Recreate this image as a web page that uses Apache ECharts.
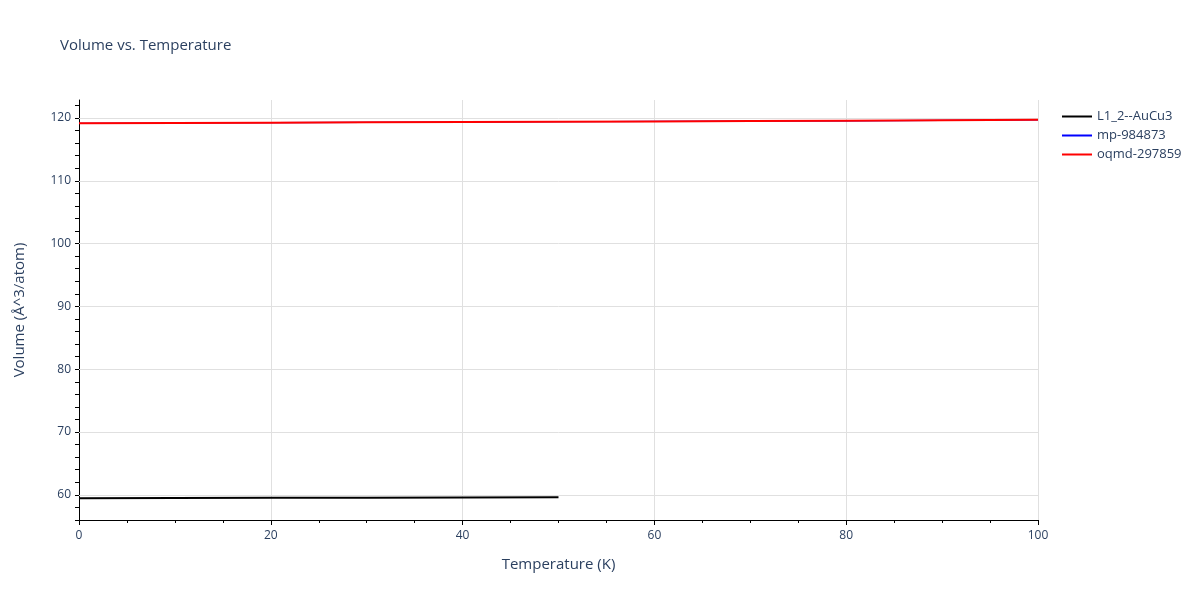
<!DOCTYPE html>
<html>
<head>
<meta charset="utf-8">
<script src="https://cdn.jsdelivr.net/npm/echarts@6/dist/echarts.min.js"></script>
<style>html,body{margin:0;padding:0;background:#fff}#c{width:1200px;height:600px}</style>
</head>
<body>
<div id="c"></div>
<script>
const seriesNames = ['L1_2--AuCu3', 'mp-984873', 'oqmd-297859'];
const seriesColors = ['#000000', '#0000ff', '#ff0000'];
const tempL12 = [0, 10, 20, 30, 40, 50];
const volL12 = [59.47, 59.50, 59.53, 59.56, 59.60, 59.63];
const tempMp = [0, 10, 20, 30, 40, 50, 60, 70, 80, 90, 100];
const volMp = [119.15, 119.20, 119.25, 119.30, 119.35, 119.40, 119.45, 119.50, 119.55, 119.62, 119.70];
const tempOq = [0, 10, 20, 30, 40, 50, 60, 70, 80, 90, 100];
const volOq = [119.15, 119.20, 119.25, 119.30, 119.35, 119.40, 119.45, 119.50, 119.55, 119.62, 119.70];
const yGridValues = [60, 70, 80, 90, 100, 110, 120];

const font = '"Open Sans", "Noto Sans", sans-serif';
const textColor = '#2a3f5f';
const zip = (xs, ys) => xs.map((x, i) => [x, ys[i]]);
const temps = [tempL12, tempMp, tempOq];
const vols = [volL12, volMp, volOq];
const widths = [2, 1.2, 2];

const series = seriesNames.map((name, i) => ({
  name: name,
  type: 'line',
  data: zip(temps[i], vols[i]),
  showSymbol: false,
  symbol: 'none',
  lineStyle: { color: seriesColors[i], width: widths[i] },
  itemStyle: { color: seriesColors[i] },
  z: 3 + i
}));
series.push({
  name: '_grid',
  type: 'line',
  data: [],
  silent: true,
  markLine: {
    silent: true,
    symbol: 'none',
    label: { show: false },
    lineStyle: { color: '#e0e0e0', width: 1, type: 'solid' },
    emphasis: { disabled: true },
    data: yGridValues.map(v => ({ yAxis: v }))
  },
  z: 1
});

const chart = echarts.init(document.getElementById('c'));
chart.setOption({
  animation: false,
  backgroundColor: '#fff',
  textStyle: { fontFamily: font },
  title: {
    text: 'Volume vs. Temperature',
    left: 55, top: 33,
    textStyle: { fontFamily: font, fontSize: 15, fontWeight: 'normal', color: textColor }
  },
  legend: {
    data: seriesNames.map((n, i) => ({ name: n, itemStyle: { color: seriesColors[i] } })),
    orient: 'vertical',
    left: 1057, top: 105,
    icon: 'rect',
    itemWidth: 30, itemHeight: 2,
    itemGap: 6,
    textStyle: { fontFamily: font, fontSize: 13, color: textColor }
  },
  grid: { left: 79, right: 162, top: 100, bottom: 80, containLabel: false },
  xAxis: {
    type: 'value',
    min: 0, max: 100, interval: 20,
    name: 'Temperature (K)',
    nameLocation: 'middle', nameGap: 37,
    nameTextStyle: { fontFamily: font, fontSize: 15, color: textColor },
    axisLine: { show: true, onZero: false, lineStyle: { color: '#000', width: 1 } },
    axisTick: { show: true, length: 5, lineStyle: { color: '#000' } },
    minorTick: { show: true, splitNumber: 4, length: 3, lineStyle: { color: '#000' } },
    axisLabel: { fontFamily: font, fontSize: 12, color: textColor, margin: 10 },
    splitLine: { show: true, lineStyle: { color: '#e0e0e0' } }
  },
  yAxis: {
    type: 'value',
    min: 56, max: 122.86, interval: 2,
    name: 'Volume (Å^3/atom)',
    nameLocation: 'middle', nameGap: 52,
    nameTextStyle: { fontFamily: font, fontSize: 15, color: textColor },
    axisLine: { show: true, onZero: false, lineStyle: { color: '#000', width: 1 } },
    axisTick: { show: true, length: 4, lineStyle: { color: '#000' } },
    axisLabel: {
      fontFamily: font, fontSize: 12, color: textColor, margin: 8,
      showMaxLabel: false,
      formatter: v => (Math.abs(v % 10) < 1e-6 ? String(Math.round(v)) : '')
    },
    splitLine: { show: false }
  },
  series: series
});
</script>
</body>
</html>
